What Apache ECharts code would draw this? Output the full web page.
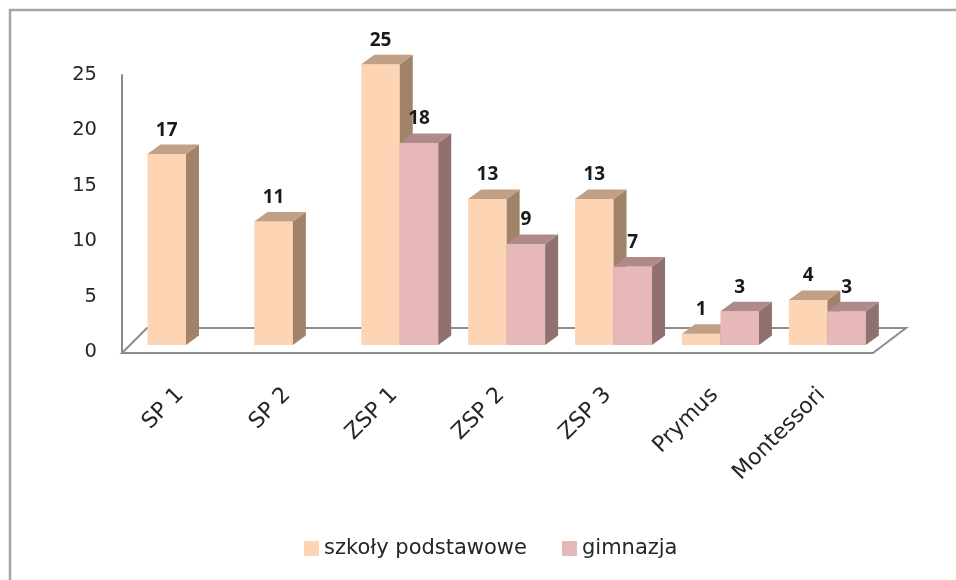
<!DOCTYPE html>
<html>
<head>
<meta charset="utf-8">
<script src="https://cdn.jsdelivr.net/npm/echarts@6/dist/echarts.min.js"></script>
<style>
html,body{margin:0;padding:0;background:#fff;}
#chart{width:956px;height:580px;}
</style>
</head>
<body>
<div id="chart"></div>
<script>
const categories = ['SP 1', 'SP 2', 'ZSP 1', 'ZSP 2', 'ZSP 3', 'Prymus', 'Montessori'];
const seriesNames = ['szkoły podstawowe', 'gimnazja'];
const podstawowe = [17, 11, 25, 13, 13, 1, 4];
const gimnazja = [null, null, 18, 9, 7, 3, 3];
const yTicks = [0, 5, 10, 15, 20, 25];

const palette = {
  orange: { front: '#FDD4B4', top: '#C2A085', side: '#A08369' },
  pink:   { front: '#E6B8B7', top: '#B08A8A', side: '#8F7170' }
};

function toData(arr) {
  const out = [];
  arr.forEach((v, i) => { if (v !== null && v !== undefined) out.push([i, v]); });
  return out;
}

function makeRender(side, cols) {
  return function (params, api) {
    const ci = api.value(0), v = api.value(1);
    const base = api.coord([ci, 0]);
    const top = api.coord([ci, v]);
    const band = api.size([1, 0])[0];
    const bw = band * 0.36;
    const dx = 13, dy = -9.5;
    const x0 = side === 0 ? base[0] - bw : base[0];
    const x1 = x0 + bw;
    const yb = base[1], yt = top[1];
    return {
      type: 'group',
      children: [
        { type: 'polygon', shape: { points: [[x0, yt], [x1, yt], [x1, yb], [x0, yb]] }, style: { fill: cols.front } },
        { type: 'polygon', shape: { points: [[x1, yt], [x1 + dx, yt + dy], [x1 + dx, yb + dy], [x1, yb]] }, style: { fill: cols.side } },
        { type: 'polygon', shape: { points: [[x0, yt], [x0 + dx, yt + dy], [x1 + dx, yt + dy], [x1, yt]] }, style: { fill: cols.top } },
        { type: 'text', z2: 100, style: { text: String(v), x: (x0 + x1) / 2, y: yt - 24, align: 'center', verticalAlign: 'middle',
            font: 'bold 19px "Open Sans"', fill: '#1a1a1a' } }
      ]
    };
  };
}

const chart = echarts.init(document.getElementById('chart'), null, { renderer: 'canvas' });
const option = {
  animation: false,
  backgroundColor: '#fff',
  color: [palette.orange.front, palette.pink.front],
  textStyle: { fontFamily: 'DejaVu Sans' },
  grid: [
    { left: 132.5, right: 75.2, top: 64.3, bottom: 235 },
    { left: 122, width: 10, top: 75, bottom: 228 }
  ],
  xAxis: [
    { type: 'category', gridIndex: 0, data: categories, boundaryGap: true,
      axisLine: { show: false }, axisTick: { show: false },
      axisLabel: { rotate: 45, margin: 41, padding: [0, 8, 0, 0], fontSize: 22, fontFamily: 'DejaVu Sans', color: '#262626', interval: 0 } },
    { type: 'category', gridIndex: 1, data: [''], show: false }
  ],
  yAxis: [
    { type: 'value', gridIndex: 0, min: 0, max: 25, show: false },
    { type: 'value', gridIndex: 1, min: yTicks[0], max: yTicks[yTicks.length - 1], interval: 5,
      axisLine: { show: true, lineStyle: { color: '#8c8c8c', width: 2 } },
      axisTick: { show: false }, splitLine: { show: false },
      axisLabel: { margin: 25, fontSize: 19.5, fontFamily: 'DejaVu Sans', color: '#262626' } }
  ],
  legend: {
    data: seriesNames,
    left: 304, top: 538, padding: 0,
    icon: 'rect', itemWidth: 15, itemHeight: 15, itemGap: 35,
    textStyle: { fontSize: 21, fontFamily: 'DejaVu Sans', color: '#262626' }
  },
  graphic: [
    { type: 'rect', z: 0, shape: { x: 10, y: 10, width: 1000, height: 1000 },
      style: { fill: 'none', stroke: '#a6a6a6', lineWidth: 2.5 } },
    { type: 'polygon', z: 0, shape: { points: [[122, 353], [873, 353], [906, 328], [147, 328]] },
      style: { fill: 'none', stroke: '#8c8c8c', lineWidth: 2 } }
  ],
  series: [
    { name: seriesNames[0], type: 'custom', xAxisIndex: 0, yAxisIndex: 0, z: 3,
      itemStyle: { color: palette.orange.front },
      renderItem: makeRender(0, palette.orange), data: toData(podstawowe) },
    { name: seriesNames[1], type: 'custom', xAxisIndex: 0, yAxisIndex: 0, z: 4,
      itemStyle: { color: palette.pink.front },
      renderItem: makeRender(1, palette.pink), data: toData(gimnazja) }
  ]
};
chart.setOption(option);
</script>
</body>
</html>
